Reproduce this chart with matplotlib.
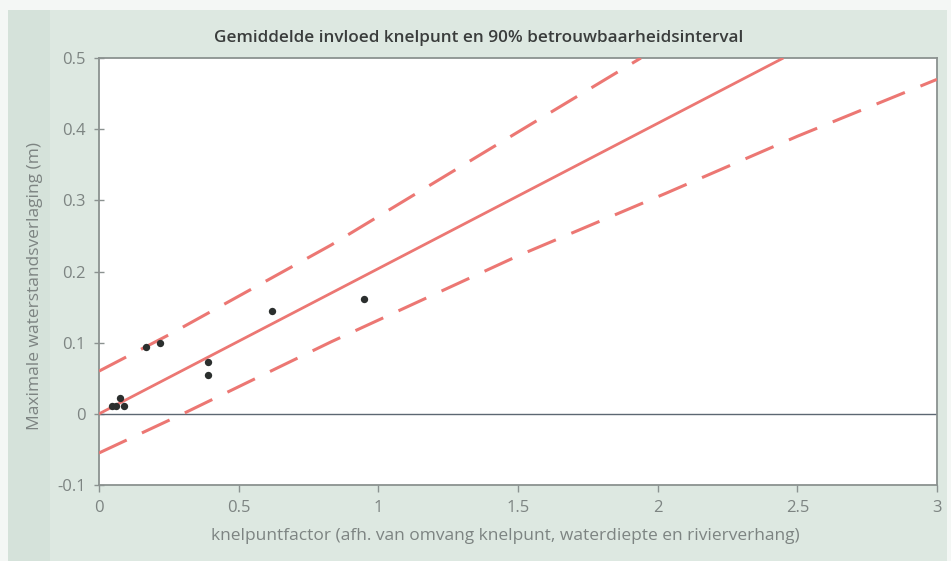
import numpy as np
import matplotlib.pyplot as plt
from matplotlib.patches import Rectangle

plt.rcParams['font.family'] = ['Open Sans', 'DejaVu Sans']

# measured points (knelpuntfactor vs. waterstandsverlaging)
obs_x = [0.045, 0.06, 0.075, 0.09, 0.17, 0.22, 0.39, 0.39, 0.62, 0.95]
obs_y = [0.011, 0.011, 0.022, 0.011, 0.094, 0.099, 0.073, 0.055, 0.144, 0.161]

# mean effect line
mean_x = [0.0, 2.45]
mean_y = [0.0, 0.5]

# 90% band, upper and lower
upper_x = [0.0, 0.25, 0.83, 1.39, 1.94]
upper_y = [0.06, 0.111, 0.237, 0.37, 0.5]
lower_x = [0.0, 0.3, 0.83, 1.5, 2.03, 2.5, 3.0]
lower_y = [-0.055, 0.0, 0.101, 0.222, 0.31, 0.39, 0.47]

xticks = [0, 0.5, 1, 1.5, 2, 2.5, 3]
xticklabels = ['0', '0.5', '1', '1.5', '2', '2.5', '3']
yticks = [-0.1, 0, 0.1, 0.2, 0.3, 0.4, 0.5]
yticklabels = ['-0.1', '0', '0.1', '0.2', '0.3', '0.4', '0.5']

W, H = 951, 561
fig = plt.figure(figsize=(W / 100, H / 100), dpi=100)
fig.patch.set_facecolor('#f4f7f5')
fig.patches.append(Rectangle((8 / W, 0), 939 / W, 1 - 10 / H, transform=fig.transFigure,
                             facecolor='#dde8e1', edgecolor='none', zorder=-2))
fig.patches.append(Rectangle((8 / W, 0), 42 / W, 1 - 10 / H, transform=fig.transFigure,
                             facecolor='#d5e2da', edgecolor='none', zorder=-1))

ax = fig.add_axes([99 / W, 1 - 485 / H, (937 - 99) / W, (485 - 58) / H])
ax.set_zorder(1)
ax.set_facecolor('white')

red = '#ec7773'
ax.plot(mean_x, mean_y, color=red, lw=2.0, solid_capstyle='butt', zorder=3)
ax.plot(upper_x, upper_y, color=red, lw=2.2, dashes=(10, 5.5), zorder=3)
ax.plot(lower_x, lower_y, color=red, lw=2.2, dashes=(10, 5.5), zorder=3)
ax.axhline(0, color='#5c6772', lw=1.0, zorder=2)
ax.scatter(obs_x, obs_y, s=28, color='#2b2f2e', zorder=4, linewidths=0)

ax.set_xlim(0, 3)
ax.set_ylim(-0.1, 0.5)
ax.set_xticks(xticks)
ax.set_xticklabels(xticklabels)
ax.set_yticks(yticks)
ax.set_yticklabels(yticklabels)

grey = '#7d8482'
for s in ax.spines.values():
    s.set_color('#8b9290')
    s.set_linewidth(1.3)
ax.tick_params(axis='x', direction='out', length=5, width=1, color='#8b9290',
               labelsize=12, labelcolor=grey, pad=6)
ax.tick_params(axis='y', direction='inout', length=7, width=1, color='#8b9290',
               labelsize=12, labelcolor=grey, pad=6)

fig.text(479 / W, 1 - 38 / H, 'Gemiddelde invloed knelpunt en 90% betrouwbaarheidsinterval',
         ha='center', va='center', fontsize=12.3, fontweight='semibold', color='#3a3d3c')
fig.text(505 / W, 1 - 536 / H,
         'knelpuntfactor (afh. van omvang knelpunt, waterdiepte en rivierverhang)',
         ha='center', va='center', fontsize=12.5, color=grey)
fig.text(35 / W, 1 - 286 / H, 'Maximale waterstandsverlaging (m)',
         ha='center', va='center', rotation=90, fontsize=12.5, color=grey)

fig.savefig('out.png', dpi=100, facecolor=fig.get_facecolor())
